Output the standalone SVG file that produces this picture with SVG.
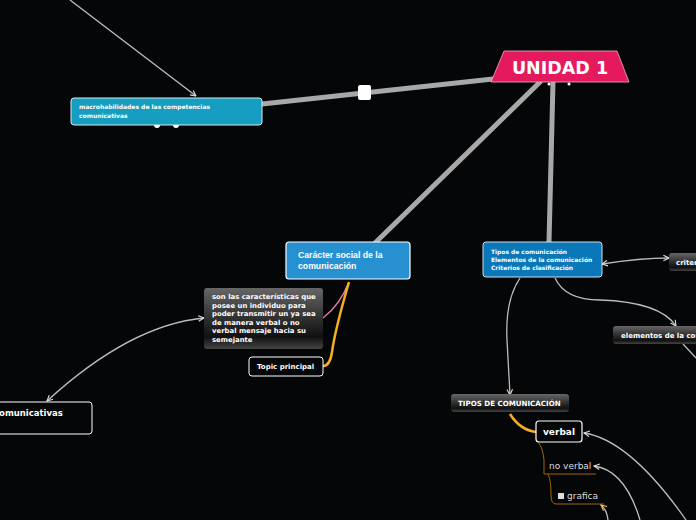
<svg xmlns="http://www.w3.org/2000/svg" width="696" height="520" viewBox="0 0 696 520">
<defs>
<linearGradient id="dk" x1="0" y1="0" x2="0" y2="1">
<stop offset="0" stop-color="#666"/>
<stop offset="0.55" stop-color="#2a2a2a"/>
<stop offset="0.8" stop-color="#111"/>
<stop offset="1" stop-color="#444"/>
</linearGradient>
<marker id="ar" viewBox="0 0 10 10" refX="9" refY="5" markerWidth="7" markerHeight="7" orient="auto-start-reverse" markerUnits="userSpaceOnUse">
<path d="M1,1 L9,5 L1,9" fill="none" stroke="#ddd" stroke-width="1.6"/>
</marker>
<marker id="ay" viewBox="0 0 10 10" refX="9" refY="5" markerWidth="7" markerHeight="7" orient="auto" markerUnits="userSpaceOnUse">
<path d="M1,1 L9,5 L1,9" fill="none" stroke="#f5c040" stroke-width="1.6"/>
</marker>
</defs>
<style>
text{font-family:"DejaVu Sans","Liberation Sans",sans-serif;fill:#fff}
.b{font-weight:bold}
.ar{font-family:"Liberation Sans",Arial,sans-serif}
.thick{stroke:#a8a8a8;stroke-width:5;fill:none;stroke-linecap:round}
.thin{stroke:#bdbdbd;stroke-width:1.3;fill:none}
.dark{fill:url(#dk);stroke:none}
</style>
<rect width="696" height="520" fill="#050608"/>
<g id="connectors">
<path class="thick" d="M493,79 L262,104"/>
<path class="thick" d="M540,82 L375,243"/>
<path class="thick" d="M553,82 Q551,160 549,242"/>
<rect x="358" y="85" width="13" height="15" rx="2" fill="#fff"/>
<path class="thin" d="M70,0 L196,96" marker-end="url(#ar)"/>
<path d="M349,282 Q340,305 323,318" fill="none" stroke="#e07aa8" stroke-width="1.5"/>
<path d="M349,282 Q335,330 332,352 Q330,366 323,366" fill="none" stroke="#f5b020" stroke-width="2.5"/>
<path class="thin" d="M47,401 Q130,325 204,318" marker-start="url(#ar)" marker-end="url(#ar)"/>
<path class="thin" d="M602,264 Q640,258 669,258" marker-start="url(#ar)" marker-end="url(#ar)"/>
<path class="thin" d="M555,278 Q565,300 600,300 Q660,302 676,326" marker-end="url(#ar)"/>
<path class="thin" d="M683,344 L696,358"/>
<path class="thin" d="M520,278 Q505,300 507,340 Q509,375 510,395" marker-end="url(#ar)"/>
<path d="M510,414 Q520,430 536,432" fill="none" stroke="#f5b020" stroke-width="2.5"/>
<path d="M538,442 Q543,448 544,460 L544,474 L596,474 M548,474 Q551,480 551,495 Q551,504 556,504 L604,504" fill="none" stroke="#a06800" stroke-width="1"/>
<path class="thin" d="M686,520 Q630,440 584,433" marker-end="url(#ar)"/>
<path class="thin" d="M640,520 Q625,470 594,466" marker-end="url(#ar)"/>
<path class="thin" d="M608,520 Q607,510 601,505" marker-end="url(#ay)"/>
</g>
<g id="unidad1">
<path d="M504,51 L617,51 L629,82 L491,82 Z" fill="#e5195d" stroke="#f0b0c0" stroke-width="0.8"/>
<text x="560" y="74" class="b" font-size="17.5" text-anchor="middle">UNIDAD 1</text>
<circle cx="549" cy="84" r="1.5" fill="#fff"/>
<circle cx="569" cy="84" r="1.5" fill="#fff"/>
</g>
<g id="macro">
<rect x="71" y="98" width="191" height="27" rx="3" fill="#159ebf" stroke="#d0eef5" stroke-width="1"/>
<text x="79" y="109" class="b" font-size="6">macrohabilidades de las competencias</text>
<text x="79" y="118" class="b" font-size="6">comunicativas</text>
<path d="M154,125 A3,3 0 0 0 160,125 Z M173,125 A3,3 0 0 0 179,125 Z" fill="#fff"/>
</g>
<g id="caracter">
<rect x="286" y="242" width="124" height="37" rx="3" fill="#2790d0" stroke="#fff" stroke-width="1.2"/>
<text x="298" y="258" class="b ar" font-size="8.7">Carácter social de la</text>
<text x="298" y="269" class="b ar" font-size="8.7">comunicación</text>
</g>
<g id="tipos">
<rect x="483" y="242" width="119" height="35" rx="3" fill="#0a78b8" stroke="#cde" stroke-width="1"/>
<text x="491" y="254" class="b" font-size="5.95">Tipos de comunicación</text>
<text x="491" y="262" class="b" font-size="5.95">Elementos de la comunicación</text>
<text x="491" y="270" class="b" font-size="5.95">Criterios de clasificación</text>
</g>
<g id="son">
<rect x="204" y="288" width="119" height="61" rx="3" class="dark"/>
<text class="b" font-size="6.9"><tspan x="212" y="299">son las características que</tspan><tspan x="212" y="307.5">posee un individuo para</tspan><tspan x="212" y="316">poder transmitir un ya sea</tspan><tspan x="212" y="324.5">de manera verbal o no</tspan><tspan x="212" y="333">verbal mensaje hacia su</tspan><tspan x="212" y="341.5">semejante</tspan></text>
</g>
<g id="topic">
<rect x="249" y="357" width="74" height="19" rx="3" fill="#050608" stroke="#fff" stroke-width="1"/>
<text x="257" y="369" class="b" font-size="7">Topic principal</text>
</g>
<g id="left">
<rect x="-10" y="402" width="102" height="32" rx="3" fill="#050608" stroke="#fff" stroke-width="1"/>
<text x="-6" y="416" class="b" font-size="8.5">comunicativas</text>
</g>
<g id="criterios">
<rect x="669" y="253" width="40" height="18" rx="3" class="dark"/>
<text x="676" y="265" class="b" font-size="7">criterios</text>
</g>
<g id="elementos">
<rect x="613" y="326" width="90" height="18" rx="3" class="dark"/>
<text x="621" y="338" class="b" font-size="7">elementos de la comunicación</text>
</g>
<g id="tiposcom">
<rect x="451" y="394" width="118" height="18" rx="3" class="dark"/>
<text x="458" y="406" class="b" font-size="7.1">TIPOS DE COMUNICACIÓN</text>
</g>
<g id="verbal">
<rect x="536" y="421" width="46" height="21" rx="3" fill="#050608" stroke="#fff" stroke-width="1.2"/>
<text x="543" y="435" class="b" font-size="9">verbal</text>
</g>
<g id="noverbal">
<text x="549" y="469" font-size="9" style="fill:#ddd">no verbal</text>
</g>
<g id="grafica">
<rect x="558" y="493" width="6" height="6" fill="#ddd"/>
<text x="567" y="499" font-size="9" style="fill:#ddd">grafica</text>
</g>
</svg>
